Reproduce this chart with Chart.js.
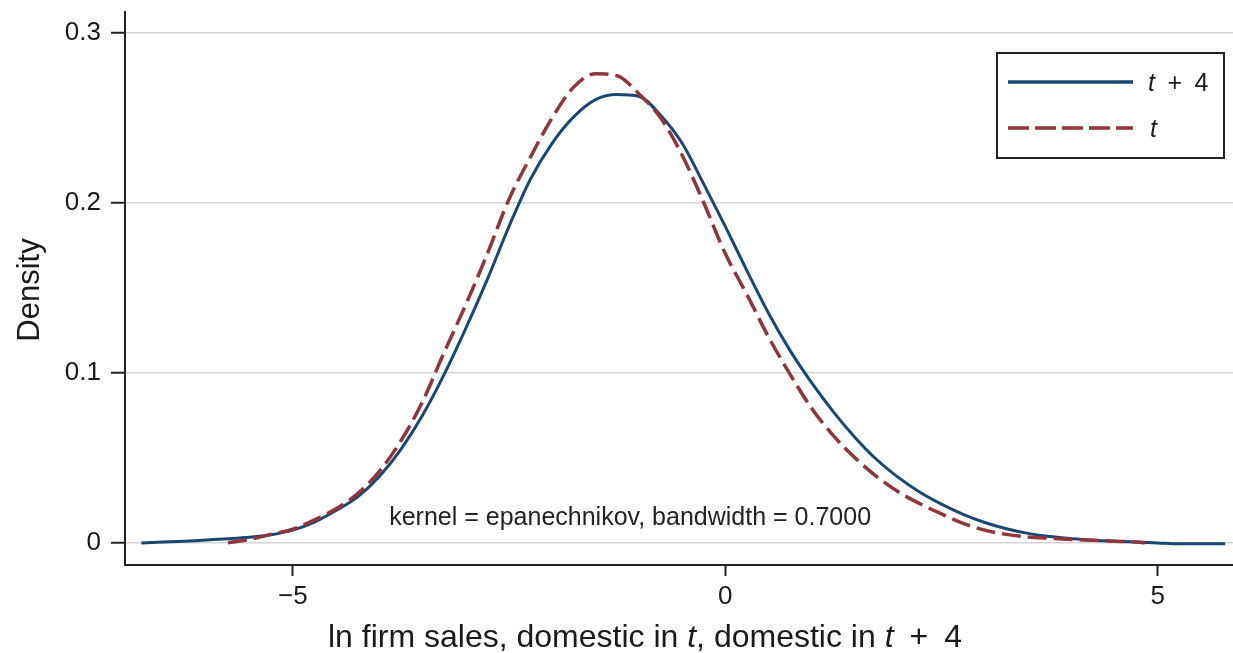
<!DOCTYPE html>
<html lang="en">
<head>
<meta charset="UTF-8">
<title>Kernel density</title>
<script src="https://cdn.jsdelivr.net/npm/chart.js"></script>
<style>
  html, body { margin: 0; padding: 0; background: #fff; }
  #wrap { width: 1233px; height: 653px; }
</style>
</head>
<body>
<div id="wrap"><canvas id="densityChart" width="1233" height="653"></canvas></div>
<script>
  // values
  const xT4 = [-6.75, -6.5, -6.25, -6.0, -5.75, -5.5, -5.25, -5.0, -4.75, -4.5, -4.25, -4.0, -3.75, -3.5, -3.25,
    -3.0, -2.75, -2.5, -2.25, -2.0, -1.75, -1.5, -1.25, -1.0, -0.75, -0.5, -0.25, 0.0, 0.25, 0.5, 0.75,
    1.0, 1.25, 1.5, 1.75, 2.0, 2.25, 2.5, 2.75, 3.0, 3.25, 3.5, 3.75, 4.0, 4.25, 4.5, 4.75, 5.0, 5.25, 5.5, 5.78];
  const densityT4 = [0.0, 0.0005, 0.001, 0.0017, 0.0024, 0.0033, 0.0048, 0.0075, 0.0122, 0.019, 0.027, 0.039, 0.055, 0.075, 0.099,
    0.126, 0.155, 0.186, 0.214, 0.235, 0.2505, 0.2605, 0.2635, 0.2625, 0.2515, 0.235, 0.211, 0.186, 0.160, 0.135, 0.113,
    0.094, 0.077, 0.062, 0.049, 0.0385, 0.0298, 0.0228, 0.0168, 0.012, 0.0083, 0.0056, 0.0037, 0.0025, 0.0015, 0.001, 0.0005, 0.0, -0.0005, -0.0005, -0.0005];

  const xT = [-5.75, -5.5, -5.25, -5.0, -4.75, -4.5, -4.25, -4.0, -3.75, -3.5, -3.25, -3.0, -2.75, -2.5, -2.25,
    -2.0, -1.75, -1.5, -1.25, -1.0, -0.75, -0.5, -0.25, 0.0, 0.25, 0.5, 0.75, 1.0, 1.25, 1.5, 1.75,
    2.0, 2.25, 2.5, 2.75, 3.0, 3.25, 3.5, 3.75, 4.0, 4.25, 4.5, 4.75, 4.85];
  const densityT = [0.0, 0.002, 0.005, 0.008, 0.0135, 0.020, 0.029, 0.042, 0.060, 0.083, 0.112, 0.140, 0.170, 0.202, 0.227,
    0.250, 0.268, 0.2757, 0.2745, 0.264, 0.250, 0.228, 0.200, 0.170, 0.146, 0.121, 0.099, 0.079, 0.063, 0.050, 0.039,
    0.030, 0.023, 0.017, 0.0115, 0.0075, 0.005, 0.0035, 0.0027, 0.002, 0.0015, 0.001, 0.0005, 0.0];

  const xTicks = [-5, 0, 5];
  const yTicks = [0, 0.1, 0.2, 0.3];
  const seriesLabels = ['t + 4', 't'];
  const note = 'kernel = epanechnikov, bandwidth = 0.7000';

  const BLUE = '#1a476f';
  const RED = '#90353b';
  const FONT = '"Liberation Sans", Arial, Helvetica, sans-serif';
  const WIDE = '\u2002'; // wider space around the plus sign, as in the math text

  function toPoints(xs, ys) {
    return xs.map((x, i) => ({ x: x, y: ys[i] }));
  }

  // draws text made of plain and italic pieces, left aligned at x
  function drawRuns(ctx, runs, x, y, size) {
    let cx = x;
    runs.forEach(r => {
      ctx.font = (r.italic ? 'italic ' : '') + size + 'px ' + FONT;
      ctx.fillText(r.text, cx, y);
      cx += ctx.measureText(r.text).width;
    });
    return cx - x;
  }
  function runsWidth(ctx, runs, size) {
    let w = 0;
    runs.forEach(r => {
      ctx.font = (r.italic ? 'italic ' : '') + size + 'px ' + FONT;
      w += ctx.measureText(r.text).width;
    });
    return w;
  }

  const extras = {
    id: 'extras',
    afterDraw(chart) {
      const ctx = chart.ctx;
      const area = chart.chartArea;
      const xs = chart.scales.x, ys = chart.scales.y;
      ctx.save();
      ctx.fillStyle = '#1a1a1a';
      ctx.textBaseline = 'alphabetic';
      ctx.textAlign = 'left';

      // x axis title
      const title = [
        { text: 'ln firm sales, domestic in ' }, { text: 't', italic: true },
        { text: ', domestic in ' }, { text: 't', italic: true }, { text: WIDE + '+' + WIDE + '4' }
      ];
      const tw = runsWidth(ctx, title, 32);
      drawRuns(ctx, title, 645 - tw / 2, 647, 32);

      // y axis title
      ctx.save();
      ctx.translate(39, 290);
      ctx.rotate(-Math.PI / 2);
      ctx.textAlign = 'center';
      ctx.font = '31px ' + FONT;
      ctx.fillText('Density', 0, 0);
      ctx.restore();

      // note inside the plot
      ctx.font = '25px ' + FONT;
      ctx.textAlign = 'center';
      ctx.fillStyle = '#222';
      ctx.fillText(note, xs.getPixelForValue(-1.1), ys.getPixelForValue(0.0153) + 8);

      // legend box
      ctx.textAlign = 'left';
      const bx = area.right - 236, by = 53, bw = 227, bh = 105;
      ctx.fillStyle = '#fff';
      ctx.fillRect(bx, by, bw, bh);
      ctx.strokeStyle = '#222';
      ctx.lineWidth = 2;
      ctx.strokeRect(bx, by, bw, bh);

      ctx.lineWidth = 3.5;
      ctx.strokeStyle = BLUE;
      ctx.beginPath();
      ctx.moveTo(bx + 11, by + 29);
      ctx.lineTo(bx + 136, by + 29);
      ctx.stroke();
      ctx.strokeStyle = RED;
      ctx.setLineDash([21, 6]);
      ctx.beginPath();
      ctx.moveTo(bx + 11, by + 75);
      ctx.lineTo(bx + 136, by + 75);
      ctx.stroke();
      ctx.setLineDash([]);

      ctx.fillStyle = '#1a1a1a';
      drawRuns(ctx, [{ text: 't', italic: true }, { text: WIDE + '+' + WIDE + '4' }], bx + 151, by + 38, 25);
      drawRuns(ctx, [{ text: 't', italic: true }], bx + 153, by + 84, 25);
      ctx.restore();
    }
  };

  new Chart(document.getElementById('densityChart'), {
    type: 'line',
    data: {
      datasets: [
        {
          label: seriesLabels[1],
          data: toPoints(xT, densityT),
          borderColor: RED,
          borderWidth: 3.5,
          borderDash: [19, 7],
          pointRadius: 0,
          cubicInterpolationMode: 'monotone',
          fill: false,
          order: 0
        },
        {
          label: seriesLabels[0],
          data: toPoints(xT4, densityT4),
          borderColor: BLUE,
          borderWidth: 3,
          pointRadius: 0,
          cubicInterpolationMode: 'monotone',
          fill: false,
          order: 1
        }
      ]
    },
    options: {
      responsive: false,
      animation: false,
      events: [],
      layout: { padding: { top: 12, right: 0, left: 0, bottom: 0 } },
      plugins: { legend: { display: false }, tooltip: { enabled: false } },
      scales: {
        x: {
          type: 'linear',
          min: -6.94,
          max: 5.87,
          afterBuildTicks(scale) { scale.ticks = xTicks.map(v => ({ value: v })); },
          afterFit(scale) {
            scale.height = 88;
            scale.paddingLeft = 0; scale.paddingRight = 0;
          },
          ticks: {
            font: { family: FONT, size: 26 },
            color: '#1a1a1a',
            padding: 5,
            callback: v => (v < 0 ? '\u2212' + Math.abs(v) : String(v))
          },
          grid: { drawOnChartArea: false, tickLength: 11, tickColor: '#222', tickWidth: 2 },
          border: { color: '#222', width: 2 }
        },
        y: {
          type: 'linear',
          min: -0.013,
          max: 0.312,
          afterBuildTicks(scale) { scale.ticks = yTicks.map(v => ({ value: v })); },
          afterFit(scale) {
            scale.width = 125;
            scale.paddingTop = 0; scale.paddingBottom = 0;
          },
          ticks: {
            font: { family: FONT, size: 26 },
            color: '#1a1a1a',
            padding: 10,
            callback: v => String(v)
          },
          grid: { color: '#d4d4d4', lineWidth: 1.5, tickLength: 14, tickColor: '#222', tickWidth: 2 },
          border: { color: '#222', width: 2 }
        }
      }
    },
    plugins: [extras]
  });
</script>
</body>
</html>
